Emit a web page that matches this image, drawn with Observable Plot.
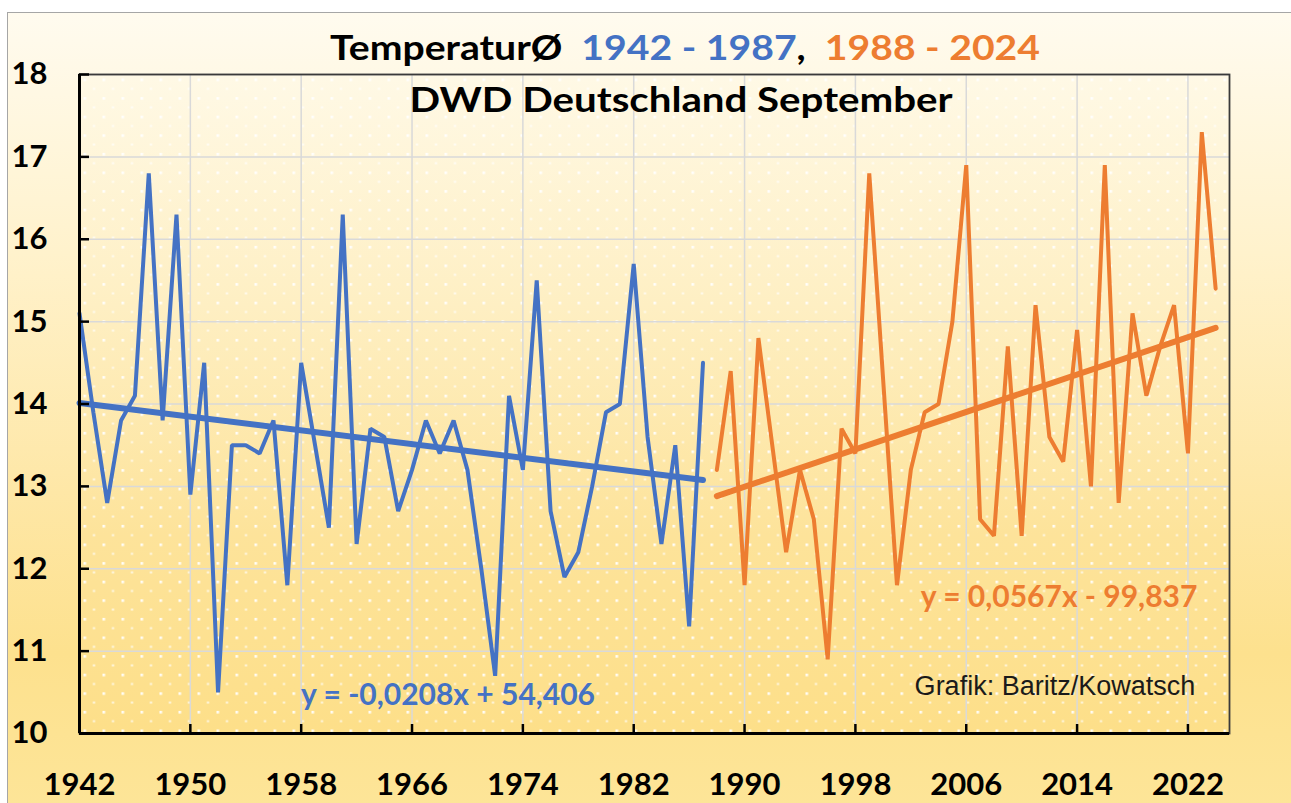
<!DOCTYPE html>
<html>
<head>
<meta charset="utf-8">
<script src="https://cdn.jsdelivr.net/npm/d3@7"></script>
<script src="https://cdn.jsdelivr.net/npm/@observablehq/plot@0.6"></script>
<style>
  html, body { margin: 0; padding: 0; background: #ffffff; }
  #wrap { position: absolute; left: 0; top: 0; width: 1291px; height: 803px; overflow: hidden; }
  #bg { position: absolute; left: 7px; top: 12px; width: 1300px; height: 800px;
        border-left: 1.5px solid #a6a6a6; border-top: 1.5px solid #a6a6a6;
        background: linear-gradient(to bottom, #fffbef 0%, #fff2cc 30%, #fee7a6 60%, #fde18e 80%, #fde598 100%); }
  #chart { position: absolute; left: 0; top: 0; }
</style>
</head>
<body>
<div id="wrap"><div id="bg"></div><div id="chart"></div></div>
<script>
// ---- data ----
const yearsA = [1942,1943,1944,1945,1946,1947,1948,1949,1950,1951,1952,1953,1954,1955,1956,1957,1958,1959,1960,1961,1962,1963,1964,1965,1966,1967,1968,1969,1970,1971,1972,1973,1974,1975,1976,1977,1978,1979,1980,1981,1982,1983,1984,1985,1986,1987];
const tempsA = [15.1,13.9,12.8,13.8,14.1,16.8,13.8,16.3,12.9,14.5,10.5,13.5,13.5,13.4,13.8,11.8,14.5,13.5,12.5,16.3,12.3,13.7,13.6,12.7,13.2,13.8,13.4,13.8,13.2,12.0,10.7,14.1,13.2,15.5,12.7,11.9,12.2,13.0,13.9,14.0,15.7,13.6,12.3,13.5,11.3,14.5];
const yearsB = [1988,1989,1990,1991,1992,1993,1994,1995,1996,1997,1998,1999,2000,2001,2002,2003,2004,2005,2006,2007,2008,2009,2010,2011,2012,2013,2014,2015,2016,2017,2018,2019,2020,2021,2022,2023,2024];
const tempsB = [13.2,14.4,11.8,14.8,13.5,12.2,13.2,12.6,10.9,13.7,13.4,16.8,14.3,11.8,13.2,13.9,14.0,15.0,16.9,12.6,12.4,14.7,12.4,15.2,13.6,13.3,14.9,13.0,16.9,12.8,15.1,14.1,14.7,15.2,13.4,17.3,15.4];
// trend equations as printed on the chart
const slopeA = -0.0208, interceptA = 54.406;
const slopeB = 0.0567, interceptB = -99.837;
const eqTextA = "y = -0,0208x + 54,406";
const eqTextB = "y = 0,0567x - 99,837";
const creditText = "Grafik: Baritz/Kowatsch";
const titleParts = [["TemperaturØ  ", "#000000"], ["1942 - 1987", "#4472C4"], [",  ", "#000000"], ["1988 - 2024", "#ED7D31"]];
const subtitleText = "DWD Deutschland September";
const xTicks = [1942,1950,1958,1966,1974,1982,1990,1998,2006,2014,2022];
const yTicks = [10,11,12,13,14,15,16,17,18];

const BLUE = "#4472C4", ORANGE = "#ED7D31";
const seriesA = yearsA.map((y, i) => ({year: y, t: tempsA[i]}));
const seriesB = yearsB.map((y, i) => ({year: y, t: tempsB[i]}));
const trendA = [yearsA[0], yearsA[yearsA.length - 1]].map(y => ({year: y, t: slopeA * y + interceptA}));
const trendB = [yearsB[0], yearsB[yearsB.length - 1]].map(y => ({year: y, t: slopeB * y + interceptB}));

const W = 1291, H = 803, mL = 79, mR = 62, mT = 74, mB = 70;
const pw = W - mL - mR, ph = H - mT - mB;
const NS = "http://www.w3.org/2000/svg";

function defsMark() {
  const defs = document.createElementNS(NS, "defs");
  defs.innerHTML = `
    <linearGradient id="plotGrad" x1="0" y1="0" x2="0" y2="1">
      <stop offset="0" stop-color="#fff9e6"/>
      <stop offset="0.35" stop-color="#feefc3"/>
      <stop offset="0.7" stop-color="#fde39a"/>
      <stop offset="1" stop-color="#fddf89"/>
    </linearGradient>
    <pattern id="dots" x="${mL + 4}" y="${mT + 4}" width="19" height="18.6" patternUnits="userSpaceOnUse">
      <rect x="0" y="0" width="2.6" height="2.6" fill="#ffffff" fill-opacity="0.95"/>
      <rect x="9.5" y="9.3" width="2" height="2" fill="#ffffff" fill-opacity="0.85"/>
    </pattern>`;
  return defs;
}

function titleMark() {
  const g = document.createElementNS(NS, "g");
  const t = document.createElementNS(NS, "text");
  t.setAttribute("x", 685); t.setAttribute("y", 60);
  t.setAttribute("text-anchor", "middle");
  t.setAttribute("font-family", "Lato, 'Open Sans', sans-serif");
  t.setAttribute("font-weight", "bold");
  t.setAttribute("font-size", 35);
  t.setAttribute("textLength", 710);
  t.setAttribute("lengthAdjust", "spacingAndGlyphs");
  t.setAttribute("style", "white-space:pre");
  for (const [s, c] of titleParts) {
    const ts = document.createElementNS(NS, "tspan");
    ts.setAttribute("fill", c); ts.textContent = s; t.appendChild(ts);
  }
  g.appendChild(t);
  const s = document.createElementNS(NS, "text");
  s.setAttribute("x", 681); s.setAttribute("y", 112);
  s.setAttribute("text-anchor", "middle");
  s.setAttribute("font-family", "Lato, 'Open Sans', sans-serif");
  s.setAttribute("font-weight", "bold");
  s.setAttribute("font-size", 34);
  s.setAttribute("textLength", 543);
  s.setAttribute("lengthAdjust", "spacingAndGlyphs");
  s.setAttribute("fill", "#000");
  s.textContent = subtitleText;
  g.appendChild(s);
  return g;
}

const chart = Plot.plot({
  width: W, height: H,
  marginLeft: mL, marginRight: mR, marginTop: mT, marginBottom: mB,
  style: {background: "transparent", fontFamily: "Lato, 'Open Sans', sans-serif", color: "#000"},
  x: {domain: [1942, 2025], label: null},
  y: {domain: [10, 18], label: null},
  marks: [
    defsMark,
    Plot.frame({fill: "url(#plotGrad)"}),
    Plot.frame({fill: "url(#dots)"}),
    Plot.ruleY(yTicks, {stroke: "#d9d9d9", strokeWidth: 1.5}),
    Plot.ruleX(xTicks, {stroke: "#d9d9d9", strokeWidth: 1.5}),
    Plot.line(seriesA, {x: "year", y: "t", stroke: BLUE, strokeWidth: 4, strokeLinejoin: "miter"}),
    Plot.line(seriesB, {x: "year", y: "t", stroke: ORANGE, strokeWidth: 4, strokeLinejoin: "miter"}),
    Plot.line(trendA, {x: "year", y: "t", stroke: BLUE, strokeWidth: 6}),
    Plot.line(trendB, {x: "year", y: "t", stroke: ORANGE, strokeWidth: 6}),
    Plot.frame({stroke: "#3a3a3a", strokeWidth: 1.8}),
    Plot.ruleY(yTicks, {stroke: "#000", strokeWidth: 2.5, insetRight: pw - 10}),
    Plot.ruleX(xTicks, {stroke: "#000", strokeWidth: 2.5, insetTop: ph - 9}),
    Plot.ruleX([1942], {stroke: "#000", strokeWidth: 3}),
    Plot.ruleY([10], {stroke: "#000", strokeWidth: 3}),
    Plot.axisY(yTicks, {tickSize: 0, tickPadding: 32, fontSize: 31, fontWeight: "bold", fill: "#000", tickFormat: d => String(d)}),
    Plot.axisX(xTicks, {tickSize: 0, tickPadding: 39, fontSize: 31, fontWeight: "bold", fill: "#000", tickFormat: d => String(d)}),
    Plot.text([eqTextA], {x: 1968.6, y: 10.46, text: d => d, fill: BLUE, fontSize: 30, fontWeight: "bold"}),
    Plot.text([eqTextB], {x: 2012.7, y: 11.65, text: d => d, fill: ORANGE, fontSize: 30, fontWeight: "bold"}),
    Plot.text([creditText], {x: 2012.4, y: 10.57, text: d => d, fill: "#1a1a1a", fontSize: 27, fontFamily: "'Liberation Sans', Arial, sans-serif"}),
    titleMark
  ]
});
document.getElementById("chart").appendChild(chart);
</script>
</body>
</html>
